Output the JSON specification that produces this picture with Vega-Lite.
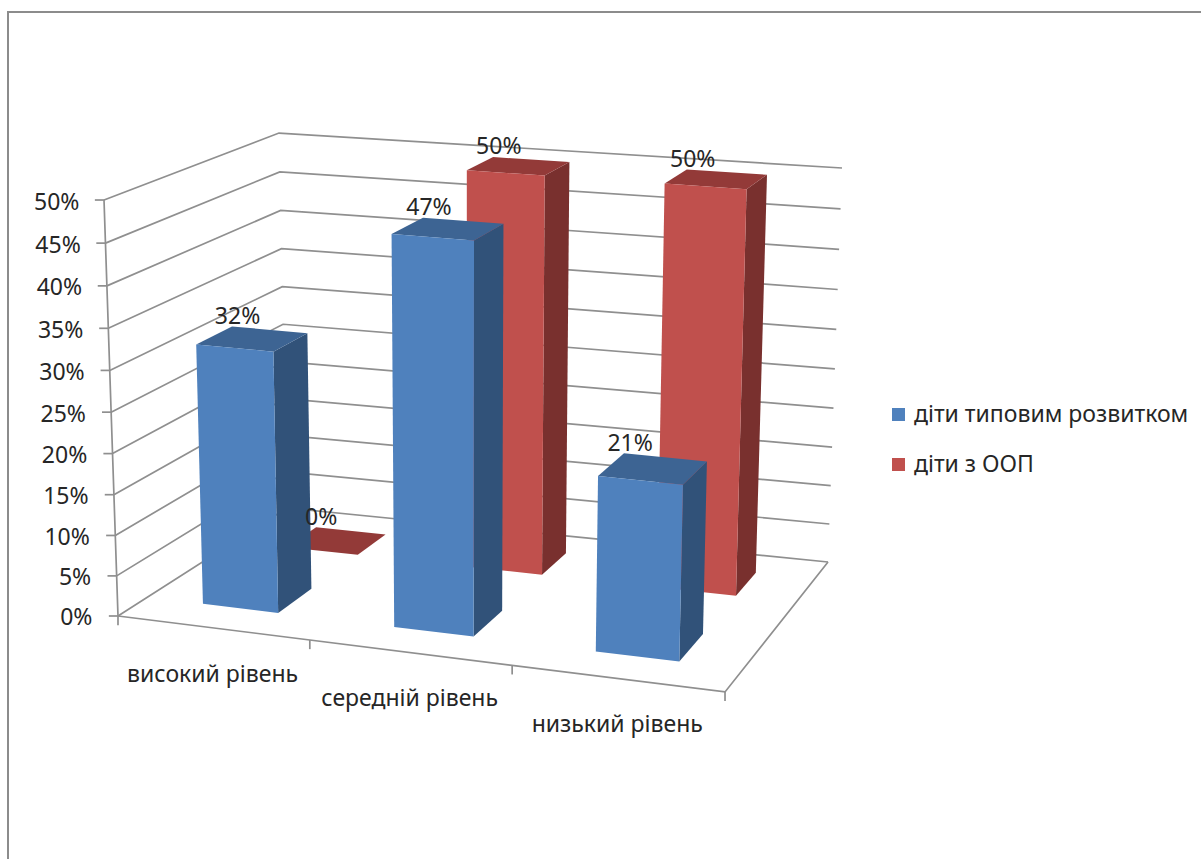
{
  "$schema": "https://vega.github.io/schema/vega-lite/v6.json",
  "description": "Three-level comparison of two groups of children, drawn as a perspective column chart. Chart space uses one unit per percentage point at the front-left corner of the floor; heights get a slight perspective foreshortening.",
  "autosize": "none",
  "padding": {"left": 8, "top": 12, "right": 0, "bottom": 0},
  "width": 1196,
  "height": 850,
  "background": "white",
  "view": {"stroke": "#8c8c8c", "strokeWidth": 2, "fill": "white"},
  "config": {"font": "Noto Sans", "text": {"font": "Noto Sans"}},
  "datasets": {
    "bars": [
      {"level": "високий рівень", "series": "діти з ООП", "value": 0},
      {"level": "середній рівень", "series": "діти з ООП", "value": 50},
      {"level": "низький рівень", "series": "діти з ООП", "value": 50},
      {"level": "високий рівень", "series": "діти типовим  розвитком", "value": 32},
      {"level": "середній рівень", "series": "діти типовим  розвитком", "value": 47},
      {"level": "низький рівень", "series": "діти типовим  розвитком", "value": 21}
    ],
    "grid": [
      {"pct": 0}, {"pct": 5}, {"pct": 10}, {"pct": 15}, {"pct": 20}, {"pct": 25},
      {"pct": 30}, {"pct": 35}, {"pct": 40}, {"pct": 45}, {"pct": 50}
    ],
    "levels": [
      {"level": "високий рівень", "slot": 0},
      {"level": "середній рівень", "slot": 1},
      {"level": "низький рівень", "slot": 2}
    ],
    "boundaries": [{"slot": 0}, {"slot": 1}, {"slot": 2}, {"slot": 3}]
  },
  "encoding": {
    "x": {"field": "X", "type": "quantitative", "axis": null, "scale": {"domain": [-13.22, 130.53], "nice": false, "zero": false}},
    "y": {
      "field": "Y",
      "type": "quantitative",
      "scale": {"domain": [-29.57, 72.6], "nice": false, "zero": false},
      "axis": {
        "title": null,
        "values": [0, 5, 10, 15, 20, 25, 30, 35, 40, 45, 50],
        "labelExpr": "datum.value + '%'",
        "offset": -92,
        "domain": false,
        "ticks": false,
        "grid": false,
        "labelFont": "Noto Sans",
        "labelFontSize": 23,
        "labelColor": "#262626",
        "labelOffset": {"expr": "2 + 16.6 * (datum.value / 50) * (1 - datum.value / 50)"},
        "labelPadding": {"expr": "8 + 13 * datum.value / 50"}
      }
    }
  },
  "layer": [
    {
      "data": {"name": "grid"},
      "transform": [
        {"calculate": "[0, 1, 2]", "as": "stop"},
        {"flatten": ["stop"]},
        {"calculate": "[0, 0, 1][datum.stop]", "as": "u"},
        {"calculate": "[0, 1, 1][datum.stop]", "as": "v"},
        {"calculate": "datum.pct / 50 * (0.96 + 0.04 * datum.pct / 50)", "as": "w"},
        {"calculate": "(1-datum.w)*((1-datum.u)*datum.v*20.31+datum.u*((1-datum.v)*72.96+datum.v*85.34))+datum.w*((1-datum.u)*((1-datum.v)*-1.68+datum.v*19.35)+datum.u*((1-datum.v)*74.28+datum.v*87.02))", "as": "X"},
        {"calculate": "(1-datum.w)*((1-datum.u)*datum.v*12.98+datum.u*((1-datum.v)*-9.13+datum.v*6.49))+datum.w*((1-datum.u)*((1-datum.v)*50+datum.v*58.05)+datum.u*((1-datum.v)*43.99+datum.v*53.85))", "as": "Y"}
      ],
      "mark": {"type": "line", "color": "#8f8f8f", "strokeWidth": 1.7},
      "encoding": {"detail": {"field": "pct"}, "order": {"field": "stop"}}
    },
    {
      "data": {"name": "grid"},
      "transform": [
        {"filter": "datum.pct == 0"},
        {"calculate": "[0, 1, 2]", "as": "stop"},
        {"flatten": ["stop"]},
        {"calculate": "[0, 1, 1][datum.stop]", "as": "u"},
        {"calculate": "[0, 0, 1][datum.stop]", "as": "v"},
        {"calculate": "datum.u * ((1-datum.v)*72.96+datum.v*85.34)", "as": "X"},
        {"calculate": "datum.u * ((1-datum.v)*-9.13+datum.v*6.49)", "as": "Y"}
      ],
      "mark": {"type": "line", "color": "#8f8f8f", "strokeWidth": 1.7},
      "encoding": {"order": {"field": "stop"}}
    },
    {
      "data": {"name": "grid"},
      "transform": [
        {"calculate": "datum.pct / 50 * (0.96 + 0.04 * datum.pct / 50)", "as": "w"},
        {"calculate": "-1.68 * datum.w", "as": "X"},
        {"calculate": "50 * datum.w", "as": "Y"},
        {"calculate": "datum.X - 1.1", "as": "Xtick"}
      ],
      "layer": [
        {
          "mark": {"type": "line", "color": "#8f8f8f", "strokeWidth": 1.7},
          "encoding": {"order": {"field": "pct"}}
        },
        {
          "mark": {"type": "rule", "color": "#8f8f8f", "strokeWidth": 1.7},
          "encoding": {"x2": {"field": "Xtick"}}
        }
      ]
    },
    {
      "data": {"name": "boundaries"},
      "transform": [
        {"calculate": "datum.slot / 3", "as": "t"},
        {"calculate": "datum.t * (0.922 + 0.078 * datum.t)", "as": "u"},
        {"calculate": "72.96 * datum.u", "as": "X"},
        {"calculate": "-9.13 * datum.u", "as": "Y"},
        {"calculate": "datum.Y - 1.1", "as": "Ytick"}
      ],
      "mark": {"type": "rule", "color": "#8f8f8f", "strokeWidth": 1.7},
      "encoding": {"y2": {"field": "Ytick"}}
    },
    {
      "data": {"name": "bars"},
      "transform": [
        {"calculate": "['side', 'top', 'front']", "as": "face"},
        {"flatten": ["face"]},
        {"calculate": "[0, 1, 2, 3]", "as": "corner"},
        {"flatten": ["corner"]},
        {"calculate": "indexof(['високий рівень', 'середній рівень', 'низький рівень'], datum.level)", "as": "slot"},
        {"calculate": "datum.series + ' / ' + datum.face", "as": "shade"},
        {"calculate": "datum.face == 'side' ? 1 : [0, 1, 1, 0][datum.corner]", "as": "a"},
        {"calculate": "datum.face == 'front' ? 0 : datum.face == 'side' ? [0, 1, 1, 0][datum.corner] : [0, 0, 1, 1][datum.corner]", "as": "b"},
        {"calculate": "datum.face == 'top' ? 1 : [0, 0, 1, 1][datum.corner]", "as": "h"},
        {"calculate": "(datum.slot + 0.3 + 0.4 * datum.a) / 3", "as": "t"},
        {"calculate": "datum.t * (0.922 + 0.078 * datum.t)", "as": "u"},
        {"calculate": "datum.series == 'діти з ООП' ? 0.69 + 0.18 * datum.b : 0.175 + 0.215 * datum.b", "as": "v"},
        {"calculate": "datum.h * datum.value / 50 * (0.96 + 0.04 * datum.value / 50)", "as": "w"},
        {"calculate": "(1-datum.w)*((1-datum.u)*datum.v*20.31+datum.u*((1-datum.v)*72.96+datum.v*85.34))+datum.w*((1-datum.u)*((1-datum.v)*-1.68+datum.v*19.35)+datum.u*((1-datum.v)*74.28+datum.v*87.02))", "as": "X"},
        {"calculate": "(1-datum.w)*((1-datum.u)*datum.v*12.98+datum.u*((1-datum.v)*-9.13+datum.v*6.49))+datum.w*((1-datum.u)*((1-datum.v)*50+datum.v*58.05)+datum.u*((1-datum.v)*43.99+datum.v*53.85))", "as": "Y"}
      ],
      "mark": {"type": "line", "filled": true, "strokeWidth": 0, "interpolate": "linear-closed"},
      "encoding": {
        "detail": {"field": "level"},
        "order": {"field": "corner"},
        "fill": {
          "field": "shade",
          "type": "nominal",
          "legend": null,
          "scale": {
            "domain": [
              "діти типовим  розвитком / front", "діти типовим  розвитком / side", "діти типовим  розвитком / top",
              "діти з ООП / front", "діти з ООП / side", "діти з ООП / top"
            ],
            "range": ["#4F81BD", "#315279", "#3D6493", "#C0504D", "#79302E", "#933A38"]
          }
        }
      }
    },
    {
      "data": {"name": "bars"},
      "transform": [
        {"calculate": "indexof(['високий рівень', 'середній рівень', 'низький рівень'], datum.level)", "as": "slot"},
        {"calculate": "(datum.slot + 0.33) / 3", "as": "t"},
        {"calculate": "datum.t * (0.922 + 0.078 * datum.t)", "as": "u"},
        {"calculate": "datum.series == 'діти з ООП' ? 0.87 : 0.39", "as": "v"},
        {"calculate": "datum.value / 50 * (0.96 + 0.04 * datum.value / 50)", "as": "w"},
        {"calculate": "(1-datum.w)*((1-datum.u)*datum.v*20.31+datum.u*((1-datum.v)*72.96+datum.v*85.34))+datum.w*((1-datum.u)*((1-datum.v)*-1.68+datum.v*19.35)+datum.u*((1-datum.v)*74.28+datum.v*87.02))", "as": "X"},
        {"calculate": "(1-datum.w)*((1-datum.u)*datum.v*12.98+datum.u*((1-datum.v)*-9.13+datum.v*6.49))+datum.w*((1-datum.u)*((1-datum.v)*50+datum.v*58.05)+datum.u*((1-datum.v)*43.99+datum.v*53.85))", "as": "Y"},
        {"calculate": "datum.value + '%'", "as": "label"}
      ],
      "layer": [
        {
          "mark": {"type": "text", "align": "center", "baseline": "alphabetic", "fontSize": 23, "color": "#262626", "dy": -3},
          "encoding": {"text": {"field": "label"}}
        },
        {
          "mark": {"type": "point", "filled": true, "opacity": 0},
          "encoding": {
            "color": {
              "field": "series",
              "type": "nominal",
              "scale": {"domain": ["діти типовим  розвитком", "діти з ООП"], "range": ["#4F81BD", "#C0504D"]},
              "legend": {
                "title": null,
                "orient": "none",
                "legendX": 879,
                "legendY": 391,
                "symbolType": "square",
                "symbolSize": 169,
                "symbolOpacity": 1,
                "symbolStrokeWidth": 0,
                "labelFont": "Noto Sans",
                "labelFontSize": 23,
                "labelColor": "#262626",
                "labelLimit": 320,
                "labelOffset": 4,
                "rowPadding": 26,
                "padding": 0
              }
            }
          }
        }
      ]
    },
    {
      "data": {"name": "levels"},
      "transform": [
        {"calculate": "(datum.slot + 0.5) / 3", "as": "t"},
        {"calculate": "datum.t * (0.922 + 0.078 * datum.t)", "as": "u"},
        {"calculate": "72.96 * datum.u", "as": "X"},
        {"calculate": "-9.13 * datum.u", "as": "Y"}
      ],
      "mark": {"type": "text", "align": "center", "baseline": "alphabetic", "fontSize": 23, "color": "#262626", "dy": 54},
      "encoding": {"text": {"field": "level"}}
    }
  ]
}
